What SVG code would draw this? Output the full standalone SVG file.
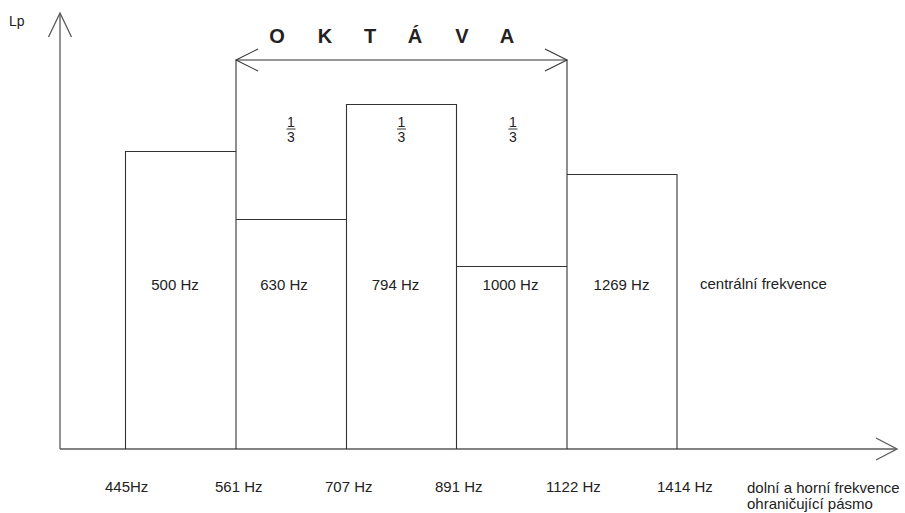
<svg xmlns="http://www.w3.org/2000/svg" width="905" height="513" viewBox="0 0 905 513">
  <style>
    .ax { fill: none; stroke: #5a5a5a; stroke-width: 1.3; }
    .bar { fill: none; stroke: #333; stroke-width: 1.1; }
    .t { font-family: "Liberation Sans", Arial, sans-serif; fill: #222; }
    .lbl { font-size: 14px; }
    .band { font-size: 15px; text-anchor: middle; }
    .hz { font-size: 15px; }
    .oct { font-size: 20px; font-weight: bold; text-anchor: middle; }
    .fr { font-size: 14px; text-anchor: middle; }
    .frl { stroke: #333; stroke-width: 1; }
  </style>
  <rect width="905" height="513" fill="#fff"/>

  <!-- axes -->
  <g id="connectors">
    <line class="ax" x1="60" y1="449" x2="60" y2="14"/>
    <polyline class="ax" points="48.5,37 60,13 71.5,37"/>
    <line class="ax" x1="60" y1="449" x2="896" y2="449"/>
    <polyline class="ax" points="876,438 897,449 876,460"/>
    <!-- octave span -->
    <line class="bar" x1="236" y1="60" x2="567" y2="60"/>
    <polyline class="bar" points="258,49 236,60 258,71"/>
    <polyline class="bar" points="545,49 567,60 545,71"/>
  </g>

  <text id="ylabel" class="t lbl" x="9" y="26">Lp</text>

  <!-- third-octave bands -->
  <g id="band-500">
    <polyline class="bar" points="125.5,449 125.5,151.5 236,151.5"/>
    <text class="t band" x="175" y="290">500 Hz</text>
  </g>
  <g id="band-630">
    <line class="bar" x1="236" y1="449" x2="236" y2="60"/>
    <line class="bar" x1="236" y1="219.5" x2="346" y2="219.5"/>
    <text class="t band" x="284" y="290">630 Hz</text>
  </g>
  <g id="band-794">
    <polyline class="bar" points="346.5,449 346.5,104.5 456.5,104.5 456.5,449"/>
    <text class="t band" x="395.5" y="290">794 Hz</text>
  </g>
  <g id="band-1000">
    <line class="bar" x1="456.5" y1="266.5" x2="567" y2="266.5"/>
    <text class="t band" x="510.5" y="290">1000 Hz</text>
  </g>
  <g id="band-1269">
    <line class="bar" x1="567" y1="449" x2="567" y2="60"/>
    <polyline class="bar" points="567,174.5 677,174.5 677,449"/>
    <text class="t band" x="621.5" y="290">1269 Hz</text>
  </g>
  <text id="centre-label" class="t hz" x="700" y="289">centrální frekvence</text>

  <!-- octave title -->
  <g id="octave">
    <text class="t oct" x="277" y="43">O</text>
    <text class="t oct" x="325" y="43">K</text>
    <text class="t oct" x="370" y="43">T</text>
    <text class="t oct" x="415" y="43">Á</text>
    <text class="t oct" x="462" y="43">V</text>
    <text class="t oct" x="507" y="43">A</text>
  </g>

  <!-- one-third fractions -->
  <g id="fractions">
    <text class="t fr" x="291" y="127">1</text>
    <line class="frl" x1="286.5" y1="129" x2="295.5" y2="129"/>
    <text class="t fr" x="291" y="142">3</text>
    <text class="t fr" x="401.5" y="127">1</text>
    <line class="frl" x1="397" y1="129" x2="406" y2="129"/>
    <text class="t fr" x="401.5" y="142">3</text>
    <text class="t fr" x="513" y="127">1</text>
    <line class="frl" x1="508.5" y1="129" x2="517.5" y2="129"/>
    <text class="t fr" x="513" y="142">3</text>
  </g>

  <!-- band edge frequencies -->
  <g id="edges">
    <text class="t hz" x="105" y="492">445Hz</text>
    <text class="t hz" x="215" y="492">561 Hz</text>
    <text class="t hz" x="325" y="492">707 Hz</text>
    <text class="t hz" x="435" y="492">891 Hz</text>
    <text class="t hz" x="546" y="492">1122 Hz</text>
    <text class="t hz" x="657" y="492">1414 Hz</text>
  </g>
  <g id="edge-label">
    <text class="t hz" x="747" y="493">dolní a horní frekvence</text>
    <text class="t hz" x="747" y="509">ohraničující pásmo</text>
  </g>
</svg>
